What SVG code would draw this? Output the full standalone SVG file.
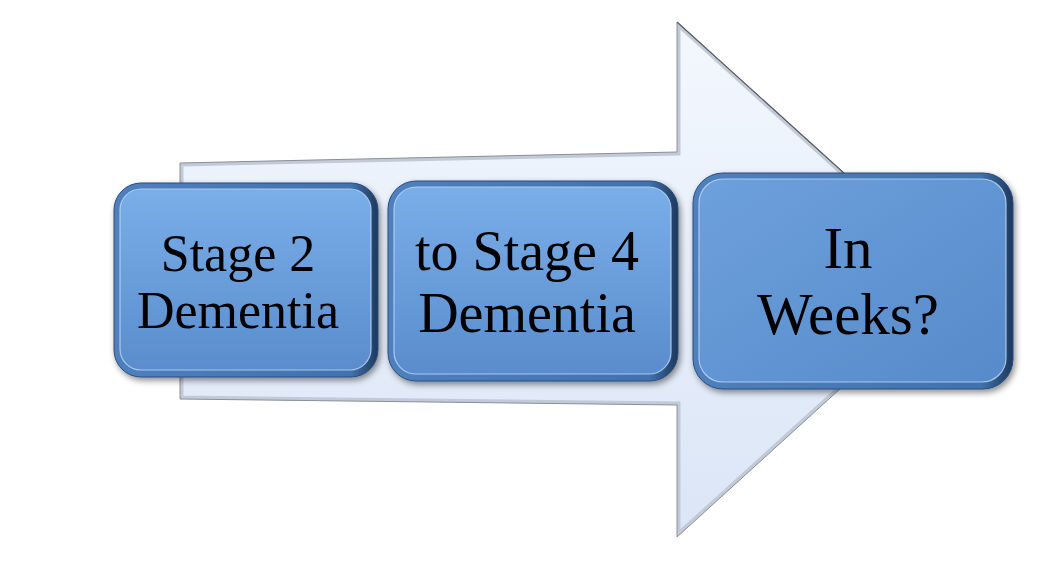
<svg xmlns="http://www.w3.org/2000/svg" width="1050" height="563" viewBox="0 0 1050 563">
  <defs>
    <linearGradient id="arrowFill" x1="0" y1="0" x2="0" y2="1">
      <stop offset="0" stop-color="#f3f8fe"/>
      <stop offset="1" stop-color="#dbe5f6"/>
    </linearGradient>
    <linearGradient id="rim" x1="0" y1="0" x2="1" y2="0">
      <stop offset="0" stop-color="#4f80bd"/>
      <stop offset="0.9" stop-color="#4072ae"/>
      <stop offset="1" stop-color="#1d385b"/>
    </linearGradient>
    <linearGradient id="face" x1="0" y1="0" x2="0" y2="1">
      <stop offset="0" stop-color="#7aaee8"/>
      <stop offset="1" stop-color="#5a8ccd"/>
    </linearGradient>
    <linearGradient id="face3" x1="0" y1="0" x2="1" y2="1">
      <stop offset="0" stop-color="#6da0dc"/>
      <stop offset="1" stop-color="#578aca"/>
    </linearGradient>
    <clipPath id="arrowClip">
      <path d="M180,163 L677,152 L677,22 L961,279 L677,537 L677,405 L180,399 Z"/>
    </clipPath>
    <filter id="shadow" x="-10%" y="-10%" width="125%" height="130%">
      <feDropShadow dx="2" dy="3" stdDeviation="3" flood-color="#000" flood-opacity="0.45"/>
    </filter>
    <style>
      .lbl { font-family: "Liberation Serif", "Times New Roman", serif; fill: #000; text-anchor: middle; }
      .rim { fill: url(#rim); stroke: #2a4d7c; stroke-width: 1; }
      .face { stroke: #b9d6f4; stroke-width: 1.2; stroke-opacity: 0.85; }
    </style>
  </defs>

  <rect width="1050" height="563" fill="#ffffff"/>

  <g id="arrow">
    <path d="M180,163 L677,152 L677,22 L961,279 L677,537 L677,405 L180,399 Z" fill="url(#arrowFill)"/>
    <path d="M180,163 L677,152 L677,22 L961,279 L677,537 L677,405 L180,399 Z" fill="none" stroke="#c2cad8" stroke-width="7" clip-path="url(#arrowClip)"/>
    <path d="M180,163 L677,152 L677,22 L961,279 L677,537 L677,405 L180,399 Z" fill="none" stroke="#8a9099" stroke-width="1"/>
    <path d="M677,22 L961,279" fill="none" stroke="#5a5f66" stroke-width="1.2"/>
  </g>

  <g id="node1" filter="url(#shadow)">
    <rect class="rim" x="114" y="183" width="264" height="194" rx="27"/>
    <rect class="face" x="120" y="189" width="251" height="181" rx="21" fill="url(#face)"/>
    <text class="lbl" x="238" y="271" font-size="52">Stage 2</text>
    <text class="lbl" x="238" y="328" font-size="52">Dementia</text>
  </g>

  <g id="node2" filter="url(#shadow)">
    <rect class="rim" x="388" y="181" width="290" height="200" rx="28"/>
    <rect class="face" x="394" y="187" width="277" height="187" rx="22" fill="url(#face)"/>
    <text class="lbl" x="527" y="270" font-size="56">to Stage 4</text>
    <text class="lbl" x="527" y="332" font-size="56">Dementia</text>
  </g>

  <g id="node3" filter="url(#shadow)">
    <rect class="rim" x="693" y="173" width="320" height="216" rx="30"/>
    <rect class="face" x="699" y="179" width="307" height="203" rx="24" fill="url(#face3)"/>
    <text class="lbl" x="848" y="268" font-size="59">In</text>
    <text class="lbl" x="848" y="334" font-size="59">Weeks?</text>
  </g>

  <g id="connectors"/>
</svg>
